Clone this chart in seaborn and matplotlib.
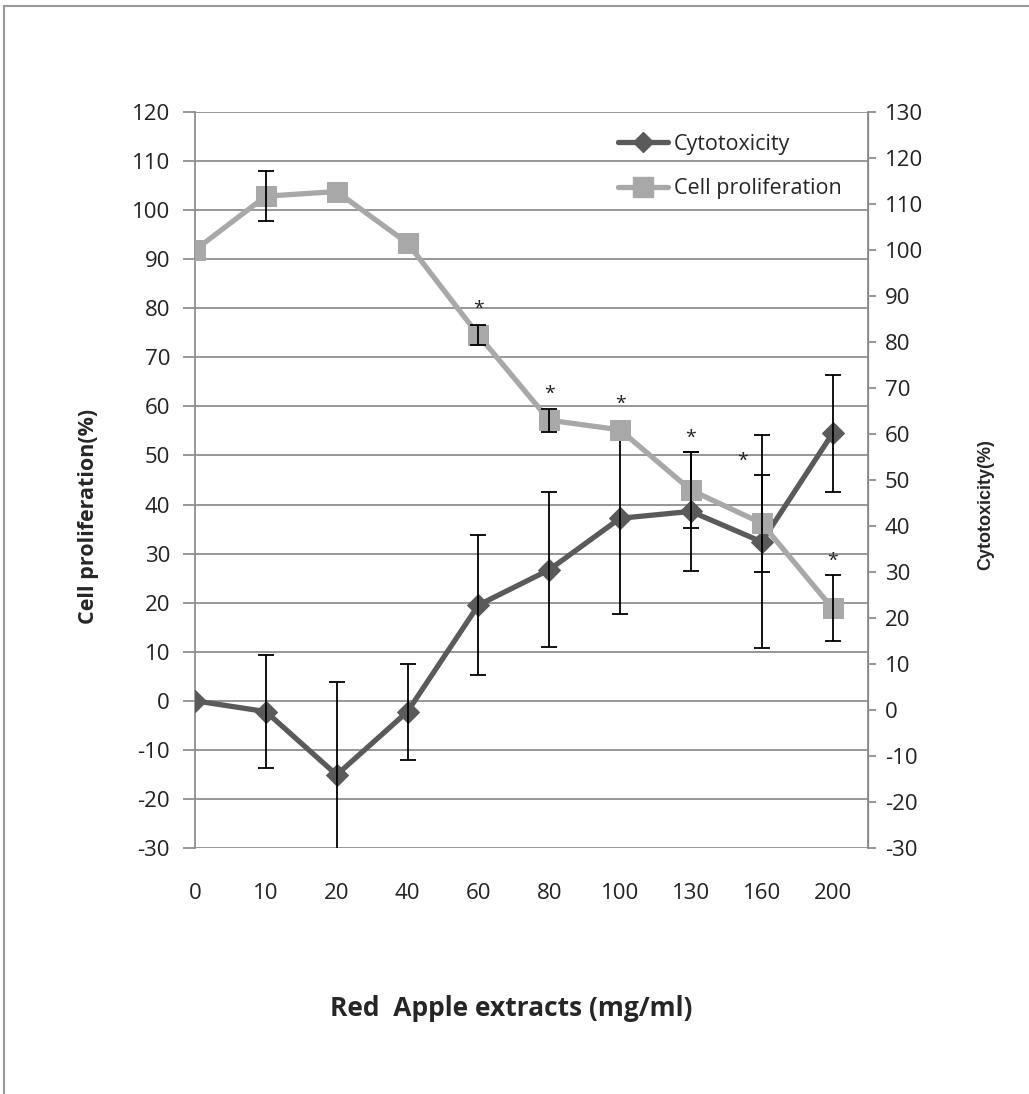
import numpy as np
import pandas as pd
import matplotlib
matplotlib.use("Agg")
import matplotlib.pyplot as plt
from matplotlib.lines import Line2D
from matplotlib.patches import Rectangle
import seaborn as sns

# doses on the x axis (categorical)
doses = ["0", "10", "20", "40", "60", "80", "100", "130", "160", "200"]

# cytotoxicity (left axis) and its error bars
cytotoxicity = [0.0, -2.2, -15.1, -2.2, 19.5, 26.7, 37.2, 38.6, 32.4, 54.5]
cytotoxicity_err = [0.0, 11.5, 19.0, 9.8, 14.3, 15.8, 19.5, 12.2, 21.7, 12.0]

# cell proliferation (right axis) and its error bars
proliferation = [100.0, 111.7, 112.7, 101.5, 81.5, 63.0, 60.9, 47.8, 40.6, 22.1]
proliferation_err = [0.0, 5.4, 0.0, 0.0, 2.2, 2.5, 0.0, 8.3, 10.5, 7.2]

# significance marks above cell proliferation
significant = [False, False, False, False, True, True, True, True, True, True]

df = pd.DataFrame({
    "pos": np.arange(len(doses)),
    "dose": doses,
    "cyto": cytotoxicity,
    "cyto_err": cytotoxicity_err,
    "prolif": proliferation,
    "prolif_err": proliferation_err,
    "sig": significant,
})

sns.set_style("white")
plt.rcParams['font.family'] = ['Open Sans', 'DejaVu Sans']
plt.rcParams['axes.unicode_minus'] = False

dark = "#5a5a5a"
light = "#a8a8a8"
tick_fs = 16

fig = plt.figure(figsize=(10.29, 10.94), dpi=100)
ax = fig.add_axes([195 / 1029, 1 - 848 / 1094, (868 - 195) / 1029, (848 - 112) / 1094])

# outer chart frame (top and left edges visible)
fig.add_artist(Rectangle((4 / 1029, -0.05), 1.2, 1 - 6 / 1094 + 0.05,
                         transform=fig.transFigure, fill=False,
                         edgecolor="#9a9a9a", linewidth=1.5))

# cytotoxicity on the left axis
sns.lineplot(data=df, x="pos", y="cyto", ax=ax, color=dark, linewidth=3.8,
             marker="D", markersize=11, markeredgecolor=dark, legend=False,
             zorder=3)
mask = df["cyto_err"] > 0
ax.errorbar(df.loc[mask, "pos"], df.loc[mask, "cyto"], yerr=df.loc[mask, "cyto_err"],
            fmt="none", ecolor="black", elinewidth=1.3, capsize=6, capthick=1.3,
            zorder=4)

ax.set_xlim(0, len(doses) - 0.5)
ax.set_ylim(-30, 120)
ax.set_yticks(np.arange(-30, 121, 10))
ax.set_xticks(df["pos"])
ax.set_xticklabels(df["dose"])
ax.grid(axis="y", color="#8f8f8f", linewidth=1.3)
ax.grid(axis="x", visible=False)
ax.set_axisbelow(True)
for side in ["top", "bottom"]:
    ax.spines[side].set_visible(False)
ax.spines["left"].set_color("#8f8f8f")
ax.spines["left"].set_linewidth(1.3)
ax.tick_params(axis="y", which="major", left=True, length=9, width=1.3,
               color="#8f8f8f", labelsize=tick_fs, labelcolor="#222222", pad=9)
ax.tick_params(axis="x", bottom=False, labelsize=tick_fs, labelcolor="#222222", pad=22)
ax.set_xlabel("Red  Apple extracts (mg/ml)", fontsize=19, fontweight="bold")
ax.xaxis.set_label_coords(0.47, -0.2)
ax.set_ylabel("Cell proliferation(%)", fontsize=15.5, fontweight="bold")
ax.yaxis.set_label_coords(-0.142, 0.45)

# cell proliferation on the right axis
ax2 = ax.twinx()
sns.lineplot(data=df, x="pos", y="prolif", ax=ax2, color=light, linewidth=3.8,
             marker="s", markersize=15, markeredgecolor=light, legend=False,
             zorder=3)
mask2 = df["prolif_err"] > 0
ax2.errorbar(df.loc[mask2, "pos"], df.loc[mask2, "prolif"], yerr=df.loc[mask2, "prolif_err"],
             fmt="none", ecolor="black", elinewidth=1.3, capsize=6, capthick=1.3,
             zorder=4)
for _, r in df[df["sig"]].iterrows():
    top = r["prolif"] + max(r["prolif_err"], 2.5)
    dx = -14 if r["dose"] == "160" else 0
    ax2.annotate("*", (r["pos"], top), xytext=(dx, 4), textcoords="offset points",
                 ha="center", va="bottom", fontsize=14, color="#222222")

ax2.set_ylim(-30, 130)
ax2.set_yticks(np.arange(-30, 131, 10))
ax2.grid(False)
for side in ["top", "bottom", "left"]:
    ax2.spines[side].set_visible(False)
ax2.spines["right"].set_color("#8f8f8f")
ax2.spines["right"].set_linewidth(1.3)
ax2.tick_params(axis="y", right=True, length=6, width=1.3, color="#8f8f8f",
                labelsize=tick_fs, labelcolor="#222222", pad=6)
ax2.set_ylabel("Cytotoxicity(%)", fontsize=13, fontweight="bold",
               family=["Liberation Sans Narrow", "Liberation Sans", "DejaVu Sans"])
ax2.yaxis.set_label_coords(1.162, 0.466)
ax2.set_xlim(0, len(doses) - 0.5)

handles = [
    Line2D([], [], color=dark, linewidth=3.8, marker="D", markersize=10,
           markeredgecolor=dark, label="Cytotoxicity"),
    Line2D([], [], color=light, linewidth=3.8, marker="s", markersize=14,
           markeredgecolor=light, label="Cell proliferation"),
]
ax2.legend(handles=handles, loc="upper left", bbox_to_anchor=(0.6, 0.997),
           frameon=False, fontsize=15.5, handlelength=2.3, handletextpad=0.3,
           labelspacing=1.1)

fig.savefig("out.png", dpi=100, facecolor="white")
